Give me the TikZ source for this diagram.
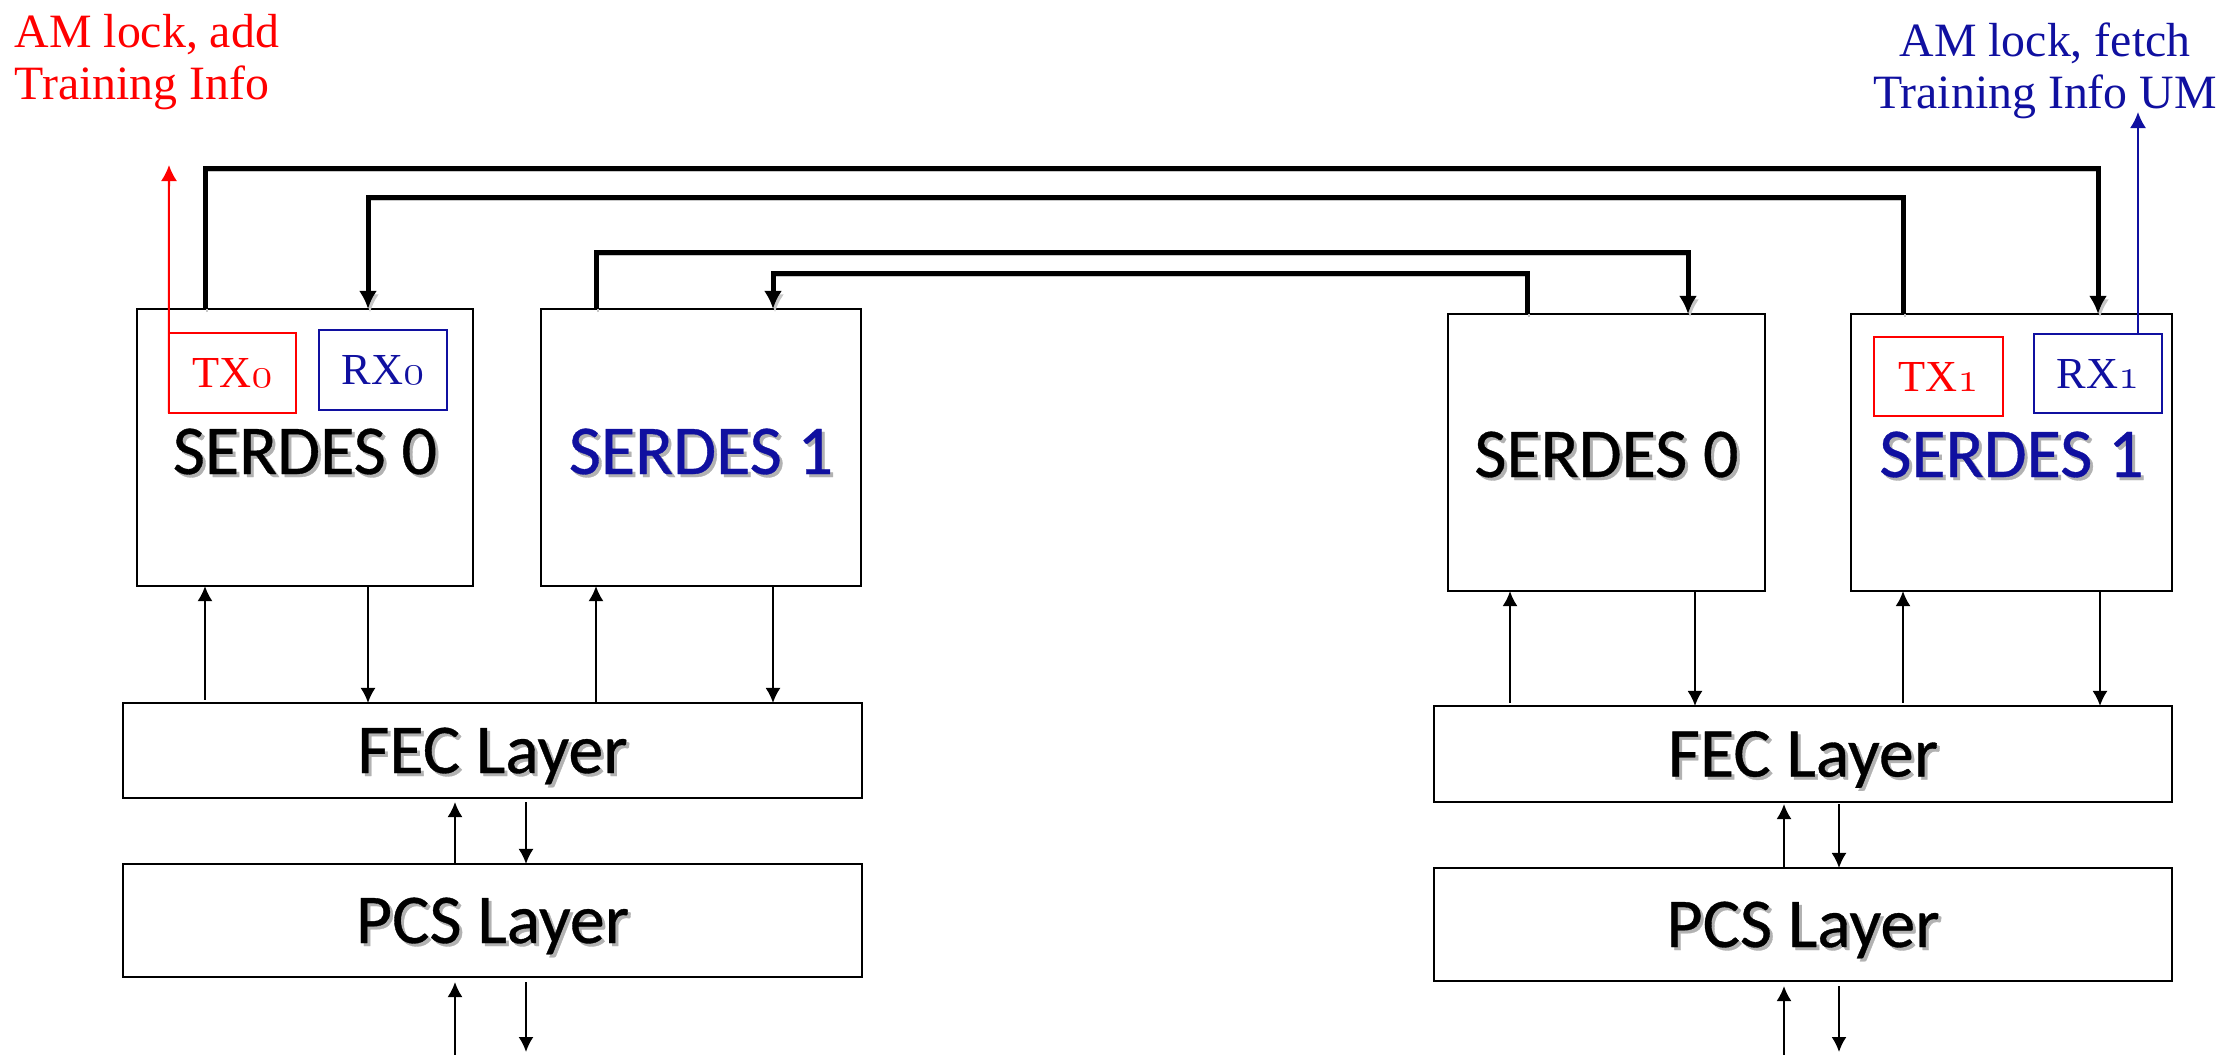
\documentclass[tikz,border=0pt]{standalone}
\usepackage{fontspec}
\setmainfont{Liberation Serif}
\newfontfamily\labelfont{Carlito}[FakeBold=0.5]
\usetikzlibrary{arrows.meta}
\definecolor{txred}{RGB}{255,0,0}
\definecolor{rxblue}{RGB}{16,16,160}
% old-style digit for the lane names
\newcommand\osdigit[1]{{\fontencoding{OML}\fontfamily{cmm}\fontseries{m}\fontshape{it}\selectfont #1}}
% text with a soft grey drop shadow
\newcommand\shadowed[1]{\leavevmode\rlap{\kern0.03cm\raisebox{-0.03cm}{\textcolor{black!30}{#1}}}#1}
\begin{document}
\begin{tikzpicture}[x=0.01cm,y=-0.01cm,
  box/.style={draw=black, line width=0.02cm, inner sep=0pt, outer sep=0pt},
  lanebox/.style={box, font=\fontsize{12.6}{14}\selectfont},
  txbox/.style={lanebox, draw=txred, text=txred},
  rxbox/.style={lanebox, draw=rxblue, text=rxblue},
  serdes/.style={font=\labelfont\fontsize{19.9}{22}\selectfont, anchor=base, inner sep=0pt},
  layer/.style={box, font=\labelfont\fontsize{19.9}{22}\selectfont, text height=12.8pt, text depth=0pt},
  link/.style={line width=0.05cm, line join=miter, -{Latex[length=0.18cm,width=0.18cm]},
    preaction={draw=black!22, transform canvas={xshift=0.02cm,yshift=-0.035cm}}},
  flow/.style={line width=0.02cm, -{Latex[length=0.15cm,width=0.15cm]}},
  tapflow/.style={line width=0.02cm, -{Latex[length=0.16cm,width=0.16cm]}},
  note/.style={font=\fontsize{13.6}{14.8}\selectfont, inner sep=0pt}
]
\useasboundingbox (0,0) rectangle (2221,1054);

% SERDES blocks, left and right link partners
\node[box, minimum width=3.36cm, minimum height=2.77cm] (s0L) at (305,447.5) {};
\node[box, minimum width=3.20cm, minimum height=2.77cm] (s1L) at (701,447.5) {};
\node[box, minimum width=3.17cm, minimum height=2.77cm] (s0R) at (1606.5,452.5) {};
\node[box, minimum width=3.21cm, minimum height=2.77cm] (s1R) at (2011.5,452.5) {};

% TX/RX lanes
\node[txbox, minimum width=1.27cm, minimum height=0.80cm] (tx0) at (232.5,373) {TX\osdigit{0}};
\node[rxbox, minimum width=1.28cm, minimum height=0.80cm] (rx0) at (383,370) {RX\osdigit{0}};
\node[txbox, minimum width=1.29cm, minimum height=0.79cm] (tx1) at (1938.5,376.5) {TX\osdigit{1}};
\node[rxbox, minimum width=1.28cm, minimum height=0.79cm] (rx1) at (2098,373.5) {RX\osdigit{1}};

% block names
\node[serdes] (n0L) at (305,474) {\shadowed{SERDES 0}};
\node[serdes, text=rxblue] (n1L) at (701,474) {\shadowed{SERDES 1}};
\node[serdes] (n0R) at (1606.5,477) {\shadowed{SERDES 0}};
\node[serdes, text=rxblue] (n1R) at (2011.5,477) {\shadowed{SERDES 1}};

% FEC and PCS layers
\node[layer, minimum width=7.39cm, minimum height=0.95cm] (fecL) at (492.5,750.5) {\shadowed{FEC Layer}};
\node[layer, minimum width=7.39cm, minimum height=1.13cm] (pcsL) at (492.5,920.5) {\shadowed{PCS Layer}};
\node[layer, minimum width=7.38cm, minimum height=0.96cm] (fecR) at (1803,754) {\shadowed{FEC Layer}};
\node[layer, minimum width=7.38cm, minimum height=1.13cm] (pcsR) at (1803,924.5) {\shadowed{PCS Layer}};

% annotations
\node[note, text=txred, align=left, anchor=north west] (addnote) at (14,14) {AM lock, add\\Training Info};
\node[note, text=rxblue, align=center, anchor=north] (fetchnote) at (2045,22) {AM lock, fetch\\Training Info UM};
\coordinate (addtip) at (169,165);
\coordinate (fetchtip) at (2138,112);

% cross links between the two sides
\draw[link] (205,0 |- s0L.north) -- (205,168) -- (2098,168) -- (2098,0 |- s1R.north);
\draw[link] (1903,0 |- s1R.north) -- (1903,197) -- (368,197) -- (368,0 |- s0L.north);
\draw[link] (596,0 |- s1L.north) -- (596,252) -- (1688,252) -- (1688,0 |- s0R.north);
\draw[link] (1527,0 |- s0R.north) -- (1527,273) -- (773,273) -- (773,0 |- s1L.north);

% training info taps
\draw[tapflow, txred] (tx0.south west) -- (addtip);
\draw[tapflow, rxblue] (2138,0 |- rx1.north) -- (fetchtip);

% left stack
\draw[flow] ([yshift=0.03cm]205,0 |- fecL.north) -- (205,0 |- s0L.south);
\draw[flow] (368,0 |- s0L.south) -- (368,0 |- fecL.north);
\draw[flow] (596,0 |- fecL.north) -- (596,0 |- s1L.south);
\draw[flow] (773,0 |- s1L.south) -- (773,0 |- fecL.north);
\draw[flow] (455,0 |- pcsL.north) -- ([yshift=-0.04cm]455,0 |- fecL.south);
\draw[flow] ([yshift=-0.04cm]526,0 |- fecL.south) -- (526,0 |- pcsL.north);
\coordinate (inL) at (455,1056);
\coordinate (outL) at (526,1052);
\draw[flow] (inL) -- ([yshift=-0.05cm]455,0 |- pcsL.south);
\draw[flow] ([yshift=-0.05cm]526,0 |- pcsL.south) -- (outL);

% right stack
\draw[flow] ([yshift=0.03cm]1510,0 |- fecR.north) -- (1510,0 |- s0R.south);
\draw[flow] (1695,0 |- s0R.south) -- (1695,0 |- fecR.north);
\draw[flow] ([yshift=0.03cm]1903,0 |- fecR.north) -- (1903,0 |- s1R.south);
\draw[flow] (2100,0 |- s1R.south) -- (2100,0 |- fecR.north);
\draw[flow] (1784,0 |- pcsR.north) -- ([yshift=-0.02cm]1784,0 |- fecR.south);
\draw[flow] ([yshift=-0.02cm]1839,0 |- fecR.south) -- (1839,0 |- pcsR.north);
\coordinate (inR) at (1784,1056);
\coordinate (outR) at (1839,1052);
\draw[flow] (inR) -- ([yshift=-0.05cm]1784,0 |- pcsR.south);
\draw[flow] ([yshift=-0.05cm]1839,0 |- pcsR.south) -- (outR);
\end{tikzpicture}
\end{document}
